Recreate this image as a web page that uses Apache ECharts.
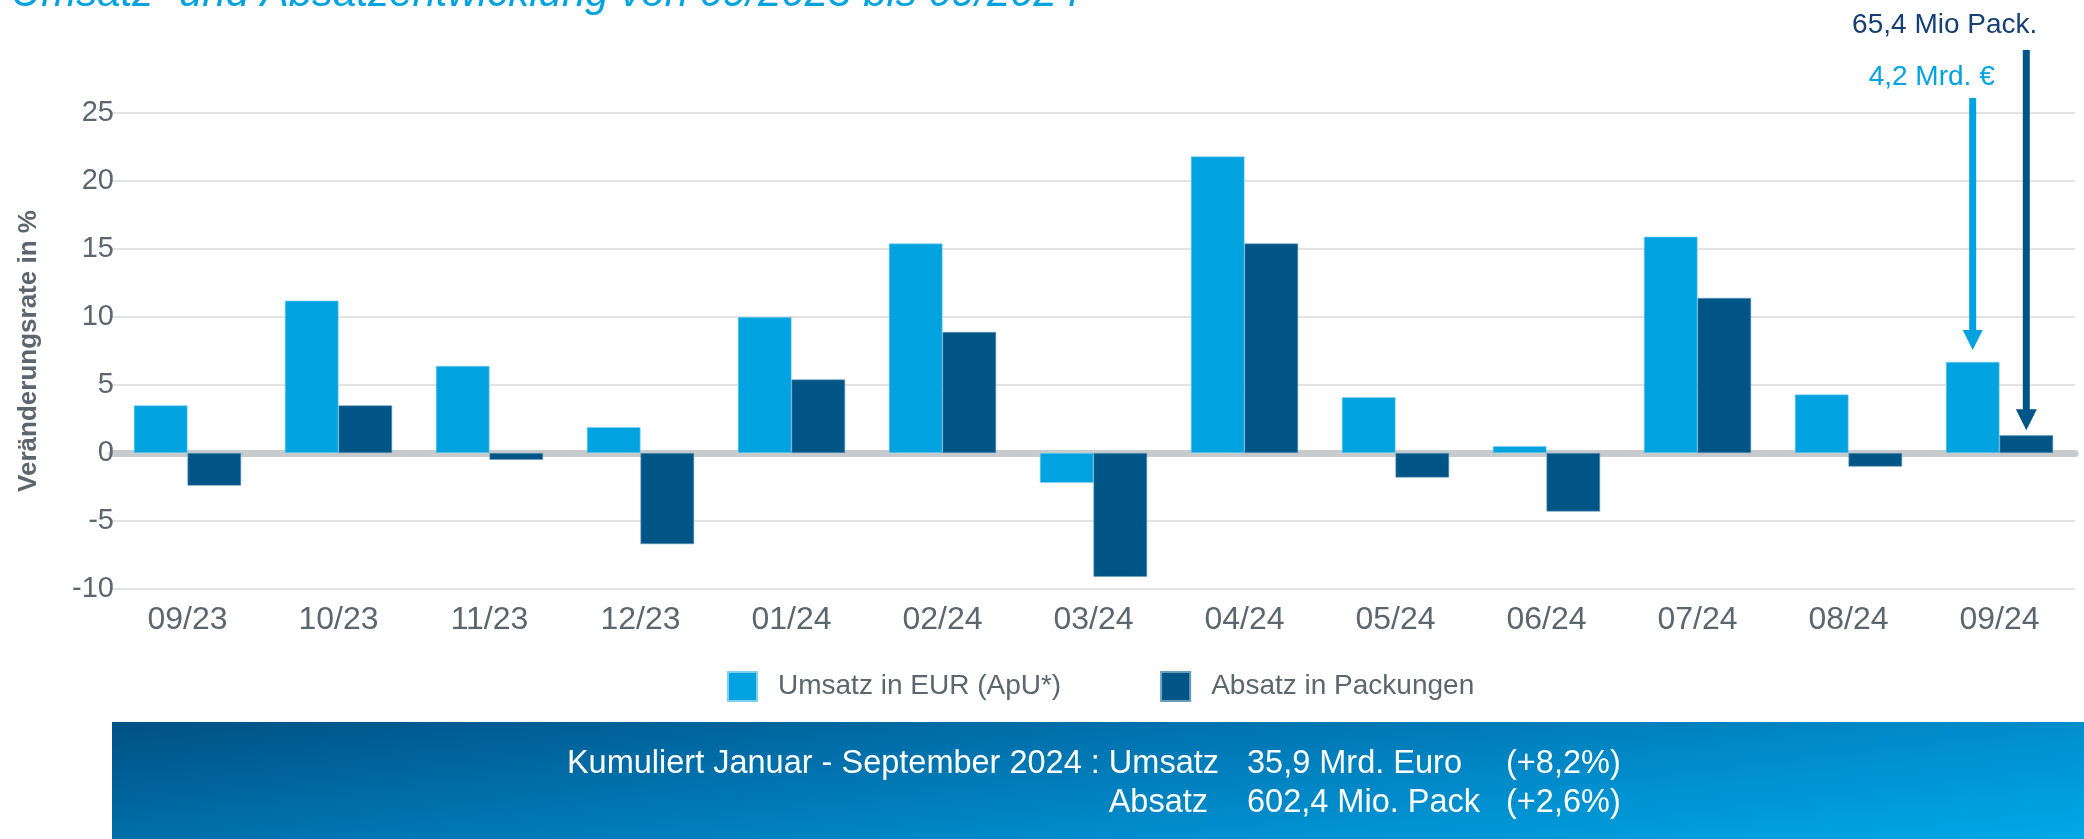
<!DOCTYPE html>
<html><head><meta charset="utf-8">
<script src="https://cdn.jsdelivr.net/npm/echarts@6/dist/echarts.min.js"></script>
<style>html,body{margin:0;padding:0;background:#fff}#c{width:2084px;height:839px}</style>
</head><body><div id="c"></div>
<script>
const categories = ['09/23','10/23','11/23','12/23','01/24','02/24','03/24','04/24','05/24','06/24','07/24','08/24','09/24'];
const umsatz = [3.5, 11.2, 6.4, 1.9, 10.0, 15.4, -2.2, 21.8, 4.1, 0.5, 15.9, 4.3, 6.7];
const absatz = [-2.4, 3.5, -0.5, -6.7, 5.4, 8.9, -9.1, 15.4, -1.8, -4.3, 11.4, -1.0, 1.3];
const seriesNames = ['Umsatz in EUR (ApU*)', 'Absatz in Packungen'];
const yTicks = { min: -10, max: 25, interval: 5 };
const titleText = 'Umsatz- und Absatzentwicklung von 09/2023 bis 09/2024';
const yAxisName = 'Veränderungsrate in %';
const annotUmsatz = '4,2 Mrd. €';
const annotAbsatz = '65,4 Mio Pack.';
const summaryLabels = ['Kumuliert Januar - September 2024 : Umsatz', 'Absatz'];
const summaryValues = ['35,9 Mrd. Euro', '602,4 Mio. Pack'];
const summaryChanges = ['(+8,2%)', '(+2,6%)'];

const LIGHT = '#00a3e0', DARK = '#005587', GREY = '#5b666e';
const FONT = '"Liberation Sans", Arial, sans-serif';
const GAP = 0.29;

const chart = echarts.init(document.getElementById('c'), null, {renderer: 'canvas'});
const option = {
  animation: false,
  backgroundColor: '#ffffff',
  textStyle: { fontFamily: FONT },
  grid: { left: 112, right: 9, top: 113, bottom: 250 },
  legend: {
    left: 722, top: 666, itemWidth: 29, itemHeight: 29, itemGap: 99,
    icon: 'rect',
    textStyle: { fontSize: 28, color: GREY, fontFamily: FONT, padding: [0, 0, 0, 16] },
    data: seriesNames
  },
  xAxis: [{
    type: 'category', data: categories,
    axisLine: { show: false, onZero: false }, axisTick: { show: false },
    axisLabel: { fontSize: 32, color: GREY, margin: 15, fontFamily: FONT }
  }, {
    type: 'category', data: categories, position: 'bottom',
    axisLine: { show: true, onZero: true, lineStyle: { color: '#c8cbce', width: 7 } },
    axisTick: { show: false }, axisLabel: { show: false }, splitLine: { show: false }
  }],
  yAxis: {
    type: 'value', min: yTicks.min, max: yTicks.max, interval: yTicks.interval,
    name: yAxisName, nameLocation: 'middle', nameRotate: 90, nameGap: 70,
    nameTextStyle: { fontSize: 26, fontWeight: 'bold', color: GREY, fontFamily: FONT },
    axisLine: { show: false }, axisTick: { show: false },
    axisLabel: { fontSize: 29, color: GREY, margin: -2, fontFamily: FONT },
    splitLine: { lineStyle: { color: '#d9dadb', width: 1.5 } }
  },
  series: [
    { name: seriesNames[0], type: 'bar', data: umsatz, barGap: '0%', barCategoryGap: (GAP*100)+'%',
      itemStyle: { color: LIGHT, borderColor: '#7fd0ef', borderWidth: 0.6 } },
    { name: seriesNames[1], type: 'bar', data: absatz, barGap: '0%', barCategoryGap: (GAP*100)+'%',
      itemStyle: { color: DARK, borderColor: '#6a9cbc', borderWidth: 0.6 } }
  ]
};
chart.setOption(option);

// annotations positioned from the chart's own scales
const last = categories.length - 1;
const band = Math.abs(chart.convertToPixel({xAxisIndex: 0}, 1) - chart.convertToPixel({xAxisIndex: 0}, 0));
const bw = band * (1 - GAP) / 2;
const pL = chart.convertToPixel({gridIndex: 0}, [last, umsatz[last]]);
const pD = chart.convertToPixel({gridIndex: 0}, [last, absatz[last]]);
const lx = pL[0] - bw / 2, dx = pD[0] + bw / 2;
const lTip = pL[1] - 12, dTip = pD[1] - 5;

function arrow(id, cx, top, tip, color, head) {
  return {
    type: 'group', id: id, children: [
      { type: 'rect', shape: { x: cx - 3.5, y: top, width: 7, height: tip - head - top + 1 }, style: { fill: color } },
      { type: 'polygon', shape: { points: [[cx - head/2, tip - head], [cx + head/2, tip - head], [cx, tip]] }, style: { fill: color } }
    ]
  };
}

chart.setOption({
  graphic: [
    { type: 'text', id: 'title', left: 11, top: -27, style: { text: titleText, font: 'italic 42px ' + FONT, fill: LIGHT } },
    arrow('arrL', lx, 98, lTip, LIGHT, 20),
    arrow('arrD', dx, 50, dTip, DARK, 21),
    { type: 'text', id: 'annD', x: dx + 11, y: 25, style: { text: annotAbsatz, font: '28px ' + FONT, fill: '#163f73', align: 'right', verticalAlign: 'middle' } },
    { type: 'text', id: 'annL', x: lx + 22, y: 77, style: { text: annotUmsatz, font: '28px ' + FONT, fill: LIGHT, align: 'right', verticalAlign: 'middle' } },
    { type: 'rect', id: 'banner', z: 0, shape: { x: 112, y: 722, width: 1972, height: 117 },
      style: { fill: new echarts.graphic.LinearGradient(112, 722, 153, 1066, [
        { offset: 0, color: '#005184' }, { offset: 0.35, color: '#0070ab' },
        { offset: 0.7, color: '#008fcf' }, { offset: 1, color: '#00a8e5' }], true) } },
    { type: 'text', id: 's1a', z: 10, x: 1219, y: 764, style: { text: summaryLabels[0], font: '32.5px ' + FONT, fill: '#fff', align: 'right', verticalAlign: 'middle' } },
    { type: 'text', id: 's2a', z: 10, x: 1208, y: 803, style: { text: summaryLabels[1], font: '32.5px ' + FONT, fill: '#fff', align: 'right', verticalAlign: 'middle' } },
    { type: 'text', id: 's1b', z: 10, x: 1247, y: 764, style: { text: summaryValues[0], font: '32.5px ' + FONT, fill: '#fff', align: 'left', verticalAlign: 'middle' } },
    { type: 'text', id: 's2b', z: 10, x: 1247, y: 803, style: { text: summaryValues[1], font: '32.5px ' + FONT, fill: '#fff', align: 'left', verticalAlign: 'middle' } },
    { type: 'text', id: 's1c', z: 10, x: 1506, y: 764, style: { text: summaryChanges[0], font: '32.5px ' + FONT, fill: '#fff', align: 'left', verticalAlign: 'middle' } },
    { type: 'text', id: 's2c', z: 10, x: 1506, y: 803, style: { text: summaryChanges[1], font: '32.5px ' + FONT, fill: '#fff', align: 'left', verticalAlign: 'middle' } }
  ]
});
</script></body></html>
